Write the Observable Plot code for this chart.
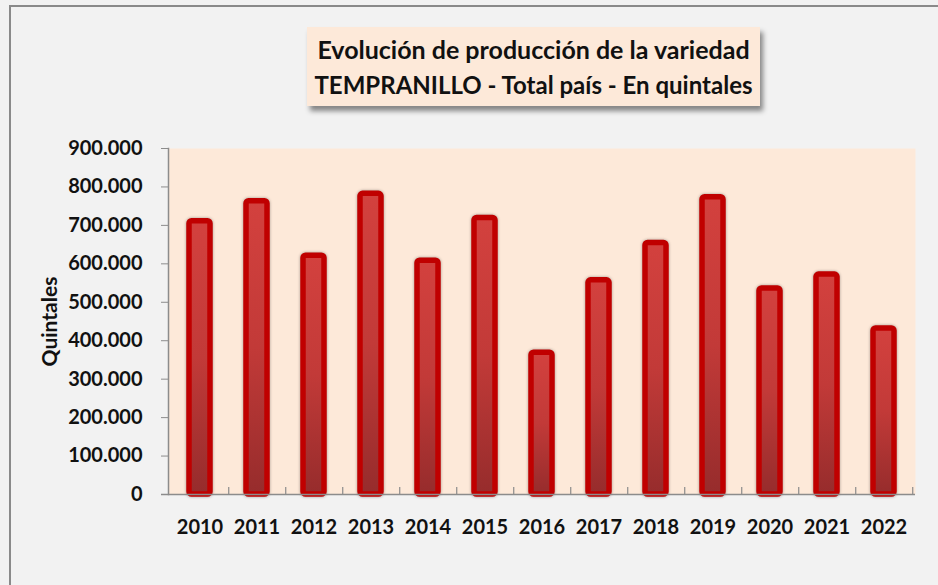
<!DOCTYPE html>
<html>
<head>
<meta charset="utf-8">
<script src="https://cdn.jsdelivr.net/npm/d3@7"></script>
<script src="https://cdn.jsdelivr.net/npm/@observablehq/plot@0.6"></script>
<style>
  html, body { margin: 0; padding: 0; background: #f2f2f2; }
  body { width: 938px; height: 585px; overflow: hidden; position: relative; font-family: Lato, "Open Sans", sans-serif; }
  #frame { position: absolute; left: 9px; top: 5px; width: 2000px; height: 2000px;
           border-left: 2px solid #8a8a8a; border-top: 2px solid #8a8a8a; pointer-events: none; }
  #head { position: relative; height: 120px; }
  #title { position: absolute; left: 307px; top: 27px; width: 453px; height: 79px; box-sizing: border-box;
           background: #fde9d9; box-shadow: 3px 5px 5px rgba(0,0,0,0.45);
           display: flex; flex-direction: column; align-items: center; justify-content: center;
           font-weight: 700; font-size: 25px; line-height: 35px; color: #111; text-align: center; white-space: nowrap; }
  #t2 { font-size: 24px; }
  #chart { position: relative; }
</style>
</head>
<body>
<div id="frame"></div>
<div id="head">
  <div id="title"><div id="t1"></div><div id="t2"></div></div>
</div>
<div id="chart"></div>
<script>
const titleLines = ["Evolución de producción de la variedad", "TEMPRANILLO - Total país - En quintales"];
const yLabel = "Quintales";
const years = ["2010","2011","2012","2013","2014","2015","2016","2017","2018","2019","2020","2021","2022"];
const values = [711000, 763000, 621000, 782000, 608000, 719000, 369000, 557000, 654000, 773000, 536000, 572000, 432000];
const yTicks = [0, 100000, 200000, 300000, 400000, 500000, 600000, 700000, 800000, 900000];

document.getElementById("t1").textContent = titleLines[0];
document.getElementById("t2").textContent = titleLines[1];

const data = years.map((y, i) => ({year: y, value: values[i]}));
const es = d3.formatLocale({decimal: ",", thousands: ".", grouping: [3], currency: ["", " €"]});
const fmt = es.format(",d");

const W = 938, H = 465;
const mL = 168, mR = 23, mT = 28, mB = 91;
const step = (W - mL - mR) / years.length;
const plotH = H - mT - mB;
const axisGray = "#8c8c8c";

const chart = Plot.plot({
  width: W, height: H,
  marginLeft: mL, marginRight: mR, marginTop: mT, marginBottom: mB,
  style: {background: "transparent", fontFamily: "Lato, 'Open Sans', sans-serif", color: "#111"},
  x: {domain: years, paddingInner: 0.625, paddingOuter: 0.3125},
  y: {domain: [0, 900000]},
  marks: [
    Plot.frame({fill: "#fde9d9", stroke: "none"}),
    Plot.barY(data, {x: "year", y: "value", fill: "url(#barGrad)", stroke: "#c00000", strokeWidth: 5.5, rx: 2.5}),
    Plot.frame({anchor: "left", stroke: axisGray, strokeWidth: 1.5}),
    Plot.ruleY([0], {stroke: axisGray, strokeWidth: 1.5, insetLeft: -7}),
    Plot.tickX(years, {x: d => d, dx: step / 2, insetTop: plotH - 7, stroke: axisGray, strokeWidth: 1.2}),
    Plot.axisY({ticks: yTicks, tickFormat: fmt, tickSize: 7, tickPadding: 19, stroke: axisGray,
                fontSize: 20, fontWeight: "bold", label: null}),
    Plot.axisY({ticks: [], tickSize: 0, label: yLabel, labelAnchor: "center", labelArrow: "none",
                labelOffset: 126, fontSize: 21, fontWeight: "bold"}),
    Plot.axisX({tickSize: 0, tickPadding: 25, fontSize: 20, fontWeight: "bold", label: null})
  ]
});

// gradient for bars
const ns = "http://www.w3.org/2000/svg";
const defs = document.createElementNS(ns, "defs");
defs.innerHTML = `<linearGradient id="barGrad" x1="0" y1="0" x2="0" y2="1">
  <stop offset="0" stop-color="#d3413e"/>
  <stop offset="0.5" stop-color="#c23a38"/>
  <stop offset="1" stop-color="#962c2c"/>
</linearGradient>`;
chart.insertBefore(defs, chart.firstChild);
chart.querySelectorAll("g[aria-label='bar'] rect").forEach(r => {
  r.style.filter = "drop-shadow(0px 0px 1.5px rgba(0,0,0,0.35))";
});
document.getElementById("chart").appendChild(chart);
</script>
</body>
</html>
